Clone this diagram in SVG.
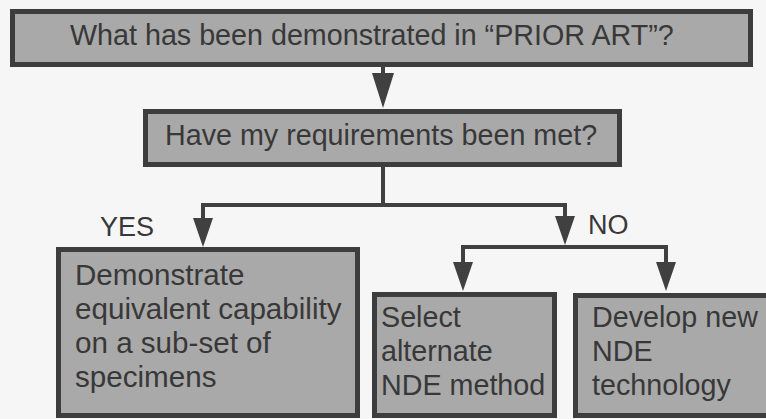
<svg xmlns="http://www.w3.org/2000/svg" width="766" height="419" viewBox="0 0 766 419">
<style>
.box{fill:#a9a9a9;stroke:#3d3d3d;stroke-width:5}
.t{font-family:"Liberation Sans",Arial,Helvetica,sans-serif;font-size:28.7px;fill:#383838}
.big{font-size:29.6px}
.lbl{font-family:"Liberation Sans",Arial,Helvetica,sans-serif;font-size:27px;fill:#383838}
.ln{fill:none;stroke:#404040;stroke-width:4}
</style>
<defs>
<marker id="ah" markerUnits="userSpaceOnUse" viewBox="0 0 29 20" markerWidth="29" markerHeight="20" refX="21" refY="10" orient="auto">
<path d="M0,0 L29,10 L0,20 z" fill="#404040"/>
</marker>
<marker id="ahL" markerUnits="userSpaceOnUse" viewBox="0 0 35 22" markerWidth="35" markerHeight="22" refX="27" refY="11" orient="auto">
<path d="M0,0 L35,11 L0,22 z" fill="#404040"/>
</marker>
</defs>
<rect width="766" height="419" fill="#f6f6f6"/>
<g id="connectors">
<path class="ln" d="M383,66 L383,100" marker-end="url(#ahL)"/>
<path class="ln" d="M383,166 L383,205 M203,205 L565,205"/>
<path class="ln" d="M203,203 L203,239" marker-end="url(#ah)"/>
<path class="ln" d="M565,203 L565,237" marker-end="url(#ah)"/>
<path class="ln" d="M461,247 L668,247"/>
<path class="ln" d="M463,245 L463,283" marker-end="url(#ah)"/>
<path class="ln" d="M666,245 L666,283" marker-end="url(#ah)"/>
</g>
<g id="n1">
<rect class="box" x="12.5" y="11.5" width="738" height="53"/>
<text class="t" x="70" y="45">What has been demonstrated in “PRIOR ART”?</text>
</g>
<g id="n2">
<rect class="box" x="145.5" y="111.5" width="474" height="53"/>
<text class="t" x="165" y="145">Have my requirements been met?</text>
</g>
<g id="lblYes"><text class="lbl" x="100" y="236">YES</text></g>
<g id="lblNo"><text class="lbl" x="588" y="234">NO</text></g>
<g id="n3">
<rect class="box" x="58.5" y="249.5" width="299" height="166"/>
<text class="t big" x="75" y="285">Demonstrate</text>
<text class="t big" x="75" y="319">equivalent capability</text>
<text class="t big" x="75" y="353">on a sub-set of</text>
<text class="t big" x="75" y="387">specimens</text>
</g>
<g id="n4">
<rect class="box" x="374.5" y="294.5" width="180" height="121"/>
<text class="t" x="381" y="327">Select</text>
<text class="t" x="381" y="361">alternate</text>
<text class="t" x="381" y="395">NDE method</text>
</g>
<g id="n5">
<rect class="box" x="575.5" y="295.5" width="200" height="120"/>
<text class="t" x="592" y="327">Develop new</text>
<text class="t" x="592" y="361">NDE</text>
<text class="t" x="592" y="395">technology</text>
</g>
</svg>
